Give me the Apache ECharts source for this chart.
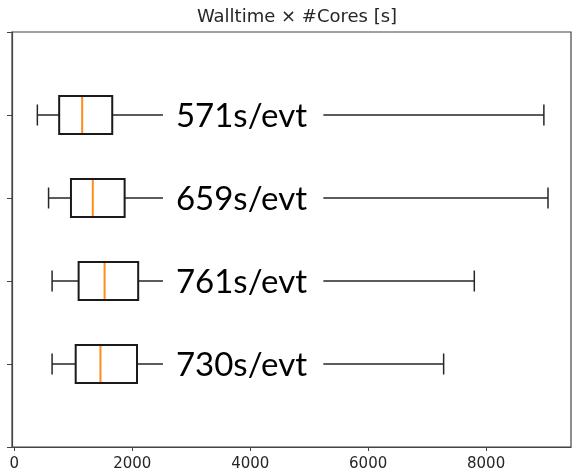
<!DOCTYPE html>
<html>
<head>
<meta charset="utf-8">
<script src="https://cdn.jsdelivr.net/npm/echarts@6/dist/echarts.min.js"></script>
<style>
html,body{margin:0;padding:0;background:#fff;}
#chart{width:577px;height:476px;}
</style>
</head>
<body>
<div id="chart"></div>
<script>
// Box rows, top to bottom
var positions = [1, 2, 3, 4];
var whiskerLow  = [390, 580, 640, 640];
var q1          = [760, 960, 1090, 1040];
var medians     = [1150, 1330, 1530, 1460];
var q3          = [1660, 1870, 2100, 2080];
var whiskerHigh = [8980, 9050, 7800, 7280];
var rowLabels   = ['571s/evt', '659s/evt', '761s/evt', '730s/evt'];
var xTicks      = [0, 2000, 4000, 6000, 8000];
var titleText   = 'Walltime \u00d7 #Cores [s]';

var labelFrom = 2520, labelTo = 5240;

var data = positions.map(function (p, i) {
  return [p, whiskerLow[i], q1[i], medians[i], q3[i], whiskerHigh[i], i];
});

var lineCol = '#262626';

function renderItem(params, api) {
  var pos = api.value(0);
  var lo = api.coord([api.value(1), pos]);
  var a = api.coord([api.value(2), pos]);
  var m = api.coord([api.value(3), pos]);
  var b = api.coord([api.value(4), pos]);
  var hi = api.coord([api.value(5), pos]);
  var lf = api.coord([labelFrom, pos]);
  var lt = api.coord([labelTo, pos]);
  var y = lo[1];
  var boxH = 38, capH = 21;
  var idx = api.value(6);
  var ls = {stroke: lineCol, lineWidth: 1.5};
  return {
    type: 'group',
    children: [
      {type: 'line', shape: {x1: lo[0], y1: y, x2: a[0], y2: y}, style: ls},
      {type: 'line', shape: {x1: b[0], y1: y, x2: hi[0], y2: y}, style: ls},
      {type: 'rect', shape: {x: lf[0], y: y - 20, width: lt[0] - lf[0], height: 40}, style: {fill: '#fff'}},
      {type: 'text', x: lf[0] + 13, y: y + 1, style: {text: rowLabels[idx], fill: '#000', font: '33px Lato', textAlign: 'left', textVerticalAlign: 'middle'}},
      {type: 'line', shape: {x1: lo[0], y1: y - capH / 2, x2: lo[0], y2: y + capH / 2}, style: ls},
      {type: 'line', shape: {x1: hi[0], y1: y - capH / 2, x2: hi[0], y2: y + capH / 2}, style: ls},
      {type: 'rect', shape: {x: a[0], y: y - boxH / 2, width: b[0] - a[0], height: boxH}, style: {fill: 'none', stroke: '#1a1a1a', lineWidth: 2}},
      {type: 'line', shape: {x1: m[0], y1: y - boxH / 2 + 1, x2: m[0], y2: y + boxH / 2 - 1}, style: {stroke: '#ff8c1a', lineWidth: 2}}
    ]
  };
}

var chart = echarts.init(document.getElementById('chart'), null, {renderer: 'canvas'});
chart.setOption({
  animation: false,
  backgroundColor: '#fff',
  title: {
    text: titleText, left: 292, top: 3, textAlign: 'center',
    textStyle: {fontFamily: 'DejaVu Sans', fontSize: 18, fontWeight: 'normal', color: '#262626'}
  },
  grid: {left: 12, right: 6, top: 32, bottom: 29, show: true, borderColor: '#444', borderWidth: 1.2, backgroundColor: 'transparent'},
  xAxis: {
    type: 'value', min: -40, max: 9440,
    axisLine: {show: true, onZero: false, lineStyle: {color: '#444', width: 1.2}},
    splitLine: {show: false},
    axisTick: {show: true, length: 4, customValues: xTicks, lineStyle: {color: '#444'}},
    axisLabel: {customValues: xTicks, margin: 10, fontFamily: 'DejaVu Sans', fontSize: 15, color: '#262626',
      formatter: function (v) { return String(v); }}
  },
  yAxis: {
    type: 'value', min: 0, max: 5, interval: 1, inverse: true,
    axisLine: {show: true, onZero: false, lineStyle: {color: '#444', width: 1.2}},
    splitLine: {show: false},
    axisTick: {show: true, length: 5, lineStyle: {color: '#444'}},
    axisLabel: {show: false}
  },
  series: [{
    type: 'custom',
    renderItem: renderItem,
    encode: {x: [1, 2, 3, 4, 5], y: 0},
    data: data,
    clip: false
  }]
});
</script>
</body>
</html>
